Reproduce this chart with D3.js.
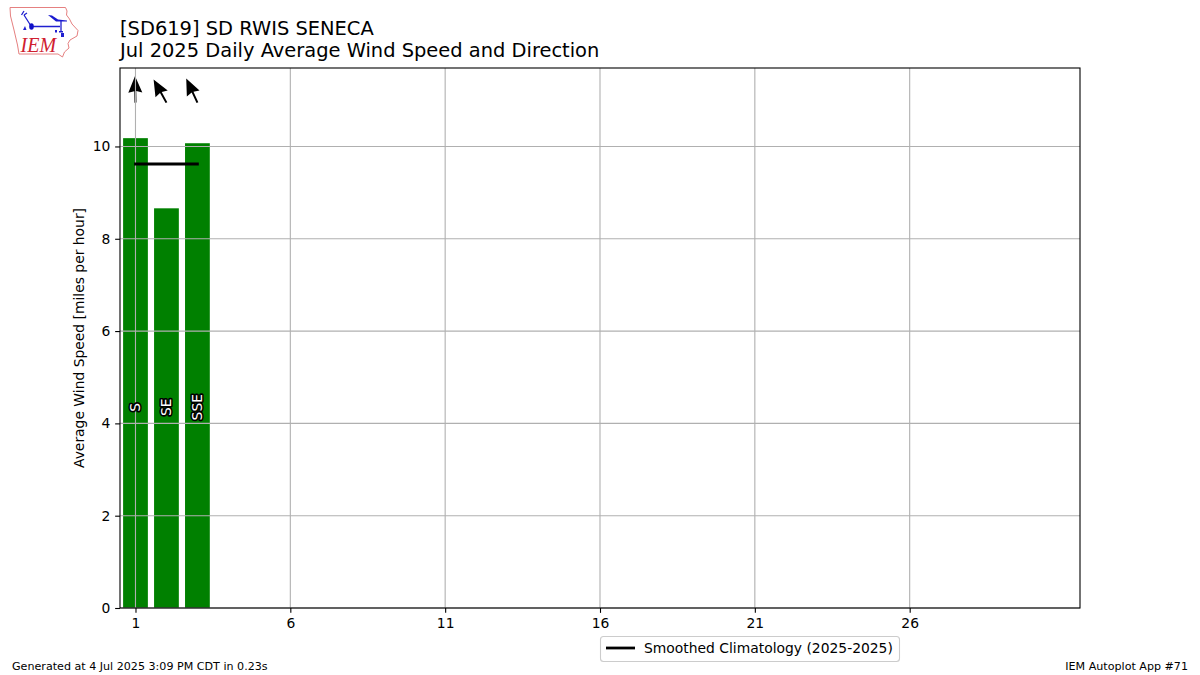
<!DOCTYPE html>
<html><head><meta charset="utf-8">
<script src="https://cdn.jsdelivr.net/npm/d3@7/dist/d3.min.js"></script>
<style>
html,body{margin:0;padding:0;background:#fff}
svg{display:block}
text{font-family:"DejaVu Sans",sans-serif;fill:#000}
</style></head><body>
<svg id="c" width="1200" height="675"></svg>
<script>
const days = [1, 2, 3];
const speeds = [10.18, 8.66, 10.07];
const dirLabels = ["S", "SE", "SSE"];
const dirDegrees = [179, 151, 155];
const climDays = [1, 2, 3];
const climValues = [9.62, 9.62, 9.62];
const xTicks = [1, 6, 11, 16, 21, 26];
const yTicks = [0, 2, 4, 6, 8, 10];
const titleLines = ["[SD619] SD RWIS SENECA", "Jul 2025 Daily Average Wind Speed and Direction"];
const yLabel = "Average Wind Speed [miles per hour]";
const legendLabel = "Smoothed Climatology (2025-2025)";
const footerLeft = "Generated at 4 Jul 2025 3:09 PM CDT in 0.23s";
const footerRight = "IEM Autoplot App #71";
const arrowLevel = 10.95, labelLevel = 4.35, barWidth = 0.8;

const L = 120, R = 1080, T = 68, B = 608;
const x = d3.scaleLinear().domain([0.5, 31.5]).range([L, R]);
const y = d3.scaleLinear().domain([0, 11.7]).range([B, T]);
const svg = d3.select("#c");

// logo
const logo = svg.append("g");
logo.append("path")
  .attr("d", "M10,7.5L65.5,7.5L67,11L66.5,15L69.5,19L72,24L78,30.5L77,36L70,40L68,43.5L69,48L64.5,52L62.5,57L58,54L19,54L17.5,45L14,30L10.5,16Z")
  .attr("fill", "#fff").attr("stroke", "#e58080").attr("stroke-width", 1);
logo.append("path")
  .attr("d", "M31,26.5L60,26.5M61,21L61,31M31,26L24,15M21.5,15L24,11M24,15L27,13")
  .attr("fill", "none").attr("stroke", "#2020d0").attr("stroke-width", 1.3);
logo.append("path").attr("d", "M48,15L52,15.5L58,19.5L67,20.5L67,21.5L56,21.5Z").attr("fill", "#1a1ad0");
logo.append("ellipse").attr("cx", 31.5).attr("cy", 26.5).attr("rx", 2.3).attr("ry", 3.3).attr("fill", "#1010c8");
logo.append("path").attr("d", "M23,30L25,26L26.5,30ZM55,30h2v2.5h-2ZM59,31h4v1.6h-4ZM61,33h3v4h-3Z").attr("fill", "#2020d0");
logo.append("text").attr("x", 20.5).attr("y", 52).text("IEM")
  .style("font-family", "'Liberation Serif',serif").style("font-style", "italic")
  .style("font-size", "20px").style("fill", "#d02030");

// titles
svg.selectAll("text.title").data(titleLines).join("text").attr("class", "title")
  .attr("x", L).attr("y", (d, i) => 35 + i * 22).style("font-size", "19.44px").text(d => d);

// bars
svg.append("g").selectAll("rect").data(days).join("rect")
  .attr("x", d => x(d - barWidth / 2)).attr("width", x(barWidth) - x(0))
  .attr("y", (d, i) => y(speeds[i])).attr("height", (d, i) => B - y(speeds[i]))
  .attr("fill", "#008000");

// wind arrows: pivot at tail, pointing where the wind blows to
svg.append("g").selectAll("path").data(days).join("path")
  .attr("transform", (d, i) => `translate(${x(d)},${y(arrowLevel)}) rotate(${dirDegrees[i] + 180})`)
  .attr("d", "M-1,0L-1,-11.5L-7,-10L0,-26.5L7,-10L1,-11.5L1,0Z")
  .attr("fill", "#000");

// grid
const grid = svg.append("g").attr("stroke", "#b0b0b0").attr("stroke-width", 1.1);
grid.selectAll("line.v").data(xTicks).join("line").attr("class", "v")
  .attr("x1", d => x(d)).attr("x2", d => x(d)).attr("y1", T).attr("y2", B);
grid.selectAll("line.h").data(yTicks).join("line").attr("class", "h")
  .attr("x1", L).attr("x2", R).attr("y1", d => y(d)).attr("y2", d => y(d));

// direction labels
svg.append("g").selectAll("text").data(days).join("text")
  .attr("transform", d => `translate(${x(d)},${y(labelLevel)}) rotate(-90)`)
  .attr("text-anchor", "middle").attr("dominant-baseline", "central")
  .style("font-size", "13.89px").style("fill", "#fff")
  .style("stroke", "#000").style("stroke-width", 3.2).style("paint-order", "stroke")
  .style("stroke-linejoin", "round")
  .text((d, i) => dirLabels[i]);

// climatology
svg.append("path").datum(climDays)
  .attr("d", d3.line().x(d => x(d)).y((d, i) => y(climValues[i])))
  .attr("fill", "none").attr("stroke", "#000").attr("stroke-width", 2.78).attr("stroke-linecap", "square");

// axes
const gx = svg.append("g").attr("transform", `translate(0,${B})`)
  .call(d3.axisBottom(x).tickValues(xTicks).tickSize(4.86).tickPadding(4.86));
const gy = svg.append("g").attr("transform", `translate(${L},0)`)
  .call(d3.axisLeft(y).tickValues(yTicks).tickSize(4.86).tickPadding(4.86));
[gx, gy].forEach(g => {
  g.select(".domain").remove();
  g.selectAll("line").attr("stroke", "#000").attr("stroke-width", 1.1);
  g.selectAll("text").style("font-family", "'DejaVu Sans',sans-serif").style("font-size", "13.89px").attr("fill", "#000");
});
svg.append("rect").attr("x", L).attr("y", T).attr("width", R - L).attr("height", B - T)
  .attr("fill", "none").attr("stroke", "#000").attr("stroke-width", 1.1);

svg.append("text").attr("transform", "translate(84,338) rotate(-90)")
  .attr("text-anchor", "middle").style("font-size", "13.89px").text(yLabel);

// legend
svg.append("rect").attr("x", 600.5).attr("y", 636.5).attr("width", 299).attr("height", 25).attr("rx", 3)
  .attr("fill", "#fff").attr("stroke", "#ccc").attr("stroke-width", 1.1);
svg.append("line").attr("x1", 606).attr("x2", 635).attr("y1", 648).attr("y2", 648)
  .attr("stroke", "#000").attr("stroke-width", 2.78);
svg.append("text").attr("x", 644).attr("y", 653).style("font-size", "13.89px").text(legendLabel);

// footer
svg.append("text").attr("x", 12).attr("y", 670).style("font-size", "11.11px").text(footerLeft);
svg.append("text").attr("x", 1188).attr("y", 670).attr("text-anchor", "end").style("font-size", "11.11px").text(footerRight);
</script>
</body></html>
